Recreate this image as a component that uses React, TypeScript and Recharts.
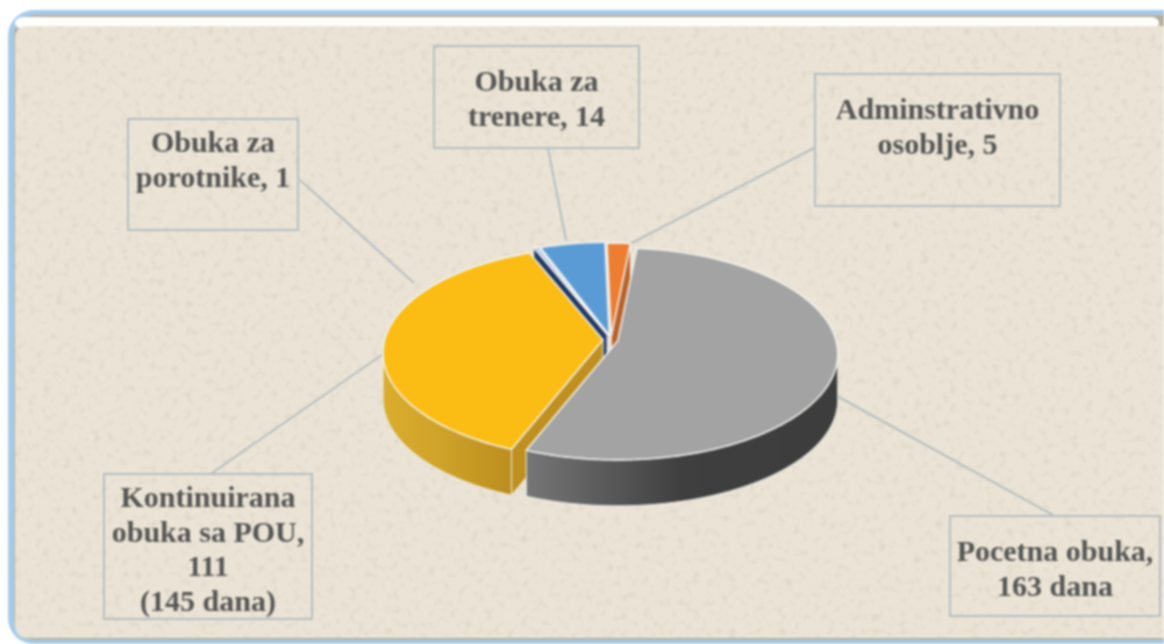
import React from "react";
import { PieChart, Pie } from "recharts";

const sliceNames = ["Pocetna obuka", "Kontinuirana obuka sa POU", "Obuka za porotnike", "Obuka za trenere", "Adminstrativno osoblje"];
const sliceValues = [163, 111, 1, 14, 5];
const topColors = ["#A2A3A2", "#FBBC13", "#A9C3E6", "#5B9BD5", "#ED7D31"];
const explodeAmounts = [7, 8, 12, 10, 8];
const faceColors = ["", "#BF9020", "#1F3864", "", "#B8622A"];
const faceEdges = ["", "start", "start", "", "end"];
const wallStops = [
  ["#767676", "#3F3F3F", "#3D3D3D"],
  ["#DBAD2E", "#CDA028", "#BB8E1E"],
  ["#1F3864", "#1F3864", "#1F3864"],
  ["#3E6D9A", "#3E6D9A", "#3E6D9A"],
  ["#B8622A", "#B8622A", "#B8622A"],
];
// painter's order: index of the slices drawn by each successive Pie
const drawLayers = [[2, 3, 4], [1], [0]];

const data = sliceNames.map((name, i) => ({ name, value: sliceValues[i] }));

const labelBoxes = [
  { lines: ["Obuka za", "porotnike, 1"], left: 127, top: 118, width: 172, height: 113, pad: 7 },
  { lines: ["Obuka za", "trenere, 14"], left: 433, top: 45, width: 207, height: 104, pad: 19 },
  { lines: ["Adminstrativno", "osoblje, 5"], left: 814, top: 73, width: 247, height: 134, pad: 19 },
  { lines: ["Kontinuirana", "obuka sa POU,", "111", "(145 dana)"], left: 103, top: 473, width: 210, height: 147, pad: 7 },
  { lines: ["Pocetna obuka,", "163 dana"], left: 949, top: 515, width: 212, height: 102, pad: 19 },
];

const leaderLines = [
  [300, 180, 414, 283],
  [548, 149, 566, 240],
  [814, 148, 628, 245],
  [212, 473, 386, 352],
  [1053, 515, 835, 395],
];

const RATIO = 106 / 220;
const DEPTH = 46;
const APEX_SHIFT = -13;
const rad = (d: number) => (d * Math.PI) / 180;

function sliceShape(props: any) {
  const { cx, cy, outerRadius: r, startAngle, endAngle } = props;
  const name = props.name ?? props.payload?.name;
  const i = sliceNames.indexOf(name);
  const mid = (startAngle + endAngle) / 2;
  const e = explodeAmounts[i];
  const ox = cx + e * Math.cos(rad(mid));
  const oy = cy - e * Math.sin(rad(mid)) * RATIO;
  const pt = (a: number, dy = 0) => [ox + r * Math.cos(rad(a)), oy - r * RATIO * Math.sin(rad(a)) + dy];
  const apex = [ox, oy + APEX_SHIFT];
  const steps = Math.max(2, Math.ceil(Math.abs(endAngle - startAngle)));
  const rim: number[][] = [];
  for (let s = 0; s <= steps; s++) rim.push(pt(startAngle + ((endAngle - startAngle) * s) / steps));
  const topPath = "M" + [apex, ...rim].map((p) => p.join(",")).join("L") + "Z";

  // outer wall: the part of the rim on the front half
  const hi = Math.min(startAngle, 0);
  const lo = Math.max(endAngle, -180);
  let wall: React.ReactNode = null;
  const gid = "wall" + i;
  if (hi > lo) {
    const n = Math.ceil(hi - lo);
    const upper: number[][] = [];
    const lower: number[][] = [];
    for (let s = 0; s <= n; s++) {
      const a = hi - ((hi - lo) * s) / n;
      upper.push(pt(a));
      lower.unshift(pt(a, DEPTH));
    }
    const xs = upper.map((p) => p[0]);
    const x1 = Math.min(...xs);
    const x2 = Math.max(...xs);
    wall = (
      <g>
        <defs>
          <linearGradient id={gid} gradientUnits="userSpaceOnUse" x1={x1} x2={x2} y1={0} y2={0}>
            <stop offset="0" stopColor={wallStops[i][0]} />
            <stop offset="0.5" stopColor={wallStops[i][1]} />
            <stop offset="1" stopColor={wallStops[i][2]} />
          </linearGradient>
        </defs>
        <path d={"M" + [...upper, ...lower].map((p) => p.join(",")).join("L") + "Z"} fill={`url(#${gid})`} stroke="#EFEFE8" strokeWidth={1} />
      </g>
    );
  }
  let face: React.ReactNode = null;
  if (faceEdges[i]) {
    const edge = pt(faceEdges[i] === "start" ? startAngle : endAngle);
    const poly = [apex, edge, [edge[0], edge[1] + DEPTH], [apex[0], apex[1] + DEPTH]];
    face = <polygon points={poly.map((p) => p.join(",")).join(" ")} fill={faceColors[i]} stroke="#EFEFE8" strokeWidth={1} />;
  }
  return (
    <g>
      {face}
      {wall}
      <path d={topPath} fill={topColors[i]} stroke="#F2F2EE" strokeWidth={1.6} strokeLinejoin="round" />
    </g>
  );
}

const layerShape = (layer: number[]) => (p: any) =>
  layer.includes(sliceNames.indexOf(p.name ?? p.payload?.name)) ? sliceShape(p) : <g />;

const font = '"Liberation Serif", serif';

export default function App() {
  return (
    <div style={{ position: "absolute", left: 0, top: 0, width: 1164, height: 644, overflow: "hidden", background: "#fff", filter: "blur(0.8px)" }}>
      <svg width={1164} height={644} style={{ position: "absolute", left: 0, top: 0 }}>
        <defs>
          <filter id="speck" x="0" y="0" width="100%" height="100%">
            <feTurbulence type="fractalNoise" baseFrequency="0.14" numOctaves={4} seed={7} />
            <feColorMatrix type="matrix" values="0 0 0 0 0.62  0 0 0 0 0.56  0 0 0 0 0.46  3 0 0 0 -1.62" />
          </filter>
        </defs>
        <rect x={8} y={10} width={1180} height={634} rx={26} fill="#A5CBE8" />
        <rect x={14} y={15} width={1170} height={625} rx={20} fill="#B5AFA2" />
        <rect x={15} y={17} width={1144} height={12} rx={8} fill="#FFFFFA" />
        <rect x={15} y={26} width={1170} height={612} rx={12} fill="#EBE4D6" />
        <rect x={15} y={26} width={1170} height={612} rx={12} filter="url(#speck)" opacity={0.45} />
        {leaderLines.map((l, i) => (
          <line key={i} x1={l[0]} y1={l[1]} x2={l[2]} y2={l[3]} stroke="#B5BDC1" strokeWidth={2} />
        ))}
      </svg>
      <div style={{ position: "absolute", left: 0, top: 0 }}>
        <PieChart width={1164} height={644} margin={{ top: 0, right: 0, bottom: 0, left: 0 }}>
          {drawLayers.map((layer, k) => (
            <Pie
              key={k}
              data={data}
              dataKey="value"
              nameKey="name"
              cx={611}
              cy={353}
              innerRadius={0}
              outerRadius={220}
              startAngle={85}
              endAngle={-275}
              paddingAngle={0}
              stroke="none"
              isAnimationActive={false}
              shape={layerShape(layer)}
            />
          ))}
        </PieChart>
      </div>
      {labelBoxes.map((b, i) => (
        <div
          key={i}
          style={{
            position: "absolute",
            left: b.left,
            top: b.top,
            width: b.width,
            height: b.height,
            boxSizing: "border-box",
            border: "2px solid #B5BDC1",
            paddingTop: b.pad - 2,
            textAlign: "center",
            fontFamily: font,
            fontWeight: 700,
            fontSize: 30,
            lineHeight: "34.5px",
            color: "#555555",
            whiteSpace: "nowrap",
          }}
        >
          {b.lines.map((t, j) => (
            <div key={j}>{t}</div>
          ))}
        </div>
      ))}
    </div>
  );
}
